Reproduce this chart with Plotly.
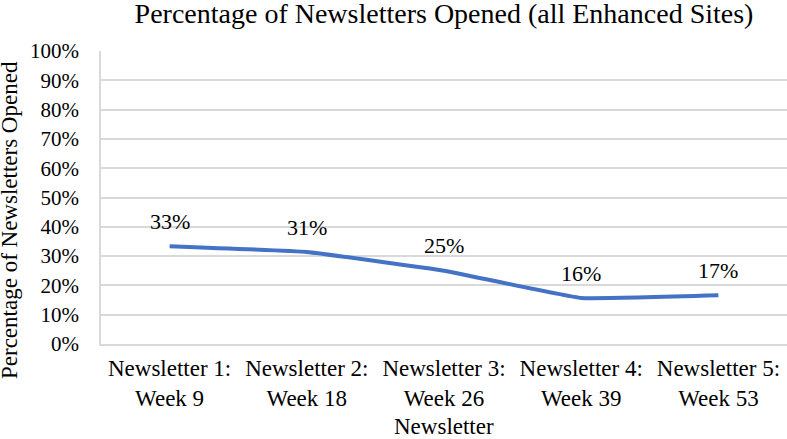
import plotly.graph_objects as go

categories = ["Newsletter 1:<br>Week 9", "Newsletter 2:<br>Week 18", "Newsletter 3:<br>Week 26",
              "Newsletter 4:<br>Week 39", "Newsletter 5:<br>Week 53"]
values = [0.334, 0.314, 0.250, 0.157, 0.166]
labels = ["33%", "31%", "25%", "16%", "17%"]
y_ticks = [i / 10 for i in range(11)]
y_tick_labels = [f"{i*10}%" for i in range(11)]

FONT = "Liberation Serif, Times New Roman, serif"
PLOT_H = 293

fig = go.Figure()
fig.add_trace(go.Scatter(
    x=categories, y=values, mode="lines",
    line=dict(color="#4472C4", width=4, shape="spline", smoothing=0.25),
    hoverinfo="skip",
))
for c, v, t in zip(categories, values, labels):
    fig.add_annotation(x=c, y=v, text=t, showarrow=False, yshift=25,
                       xanchor="center", yanchor="middle",
                       font=dict(family=FONT, size=22, color="#000000"))

fig.update_layout(
    width=787, height=439,
    margin=dict(l=101, r=0, t=51, b=95),
    paper_bgcolor="white", plot_bgcolor="white",
    showlegend=False,
    font=dict(family=FONT, color="#000000"),
    title=dict(text="Percentage of Newsletters Opened (all Enhanced Sites)",
               x=0.5, xref="paper", xanchor="center", y=0.971, yref="container",
               yanchor="middle", font=dict(family=FONT, size=28, color="#000000")),
)
fig.update_xaxes(
    type="category", range=[-0.5, 4.5],
    showline=True, linecolor="#D9D9D9", linewidth=1.5,
    showgrid=False, ticks="", tickfont=dict(family=FONT, size=23),
    ticklabelstandoff=3,
)
fig.update_yaxes(
    range=[0, 1], tickvals=y_ticks, ticktext=y_tick_labels,
    showgrid=True, gridcolor="#D9D9D9", gridwidth=1.5,
    showline=True, linecolor="#D9D9D9", linewidth=1.5,
    zeroline=False, ticks="", tickfont=dict(family=FONT, size=21),
    ticklabelstandoff=16,
)
fig.add_annotation(
    text="Percentage of Newsletters Opened", textangle=-90,
    xref="paper", yref="paper", x=(10 - 101) / 686, y=(344 - 220) / PLOT_H,
    xanchor="center", yanchor="middle", showarrow=False,
    font=dict(family=FONT, size=23, color="#000000"),
)
fig.add_annotation(
    text="Newsletter",
    xref="paper", yref="paper", x=0.5, y=(344 - 426) / PLOT_H,
    xanchor="center", yanchor="middle", showarrow=False,
    font=dict(family=FONT, size=23, color="#000000"),
)

fig.write_html("out.html", config={"displayModeBar": False},
               post_script="document.body.style.margin='0';document.body.style.overflow='hidden';")
